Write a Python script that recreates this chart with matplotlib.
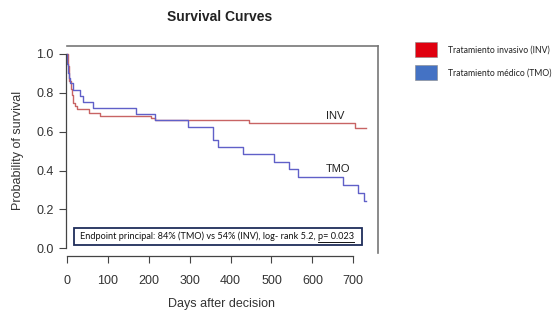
import matplotlib.pyplot as plt
from matplotlib.patches import Rectangle
from matplotlib.lines import Line2D

# Kaplan-Meier steps (day, survival after step)
inv_days = [0, 2, 4, 6, 9, 12, 16, 20, 25, 55, 80, 205, 215, 445, 705, 730]
inv_surv = [1.0, 0.94, 0.90, 0.86, 0.82, 0.79, 0.75, 0.73, 0.715, 0.697, 0.68,
            0.668, 0.66, 0.643, 0.619, 0.619]

tmo_days = [0, 1, 3, 5, 8, 15, 32, 40, 64, 170, 215, 297, 358, 370, 430, 507,
            542, 564, 676, 711, 725, 730]
tmo_surv = [1.0, 0.95, 0.90, 0.875, 0.85, 0.815, 0.785, 0.754, 0.72, 0.69, 0.66,
            0.622, 0.557, 0.519, 0.483, 0.445, 0.41, 0.368, 0.325, 0.285, 0.244, 0.244]

x_ticks = [0, 100, 200, 300, 400, 500, 600, 700]
y_ticks = [0.0, 0.2, 0.4, 0.6, 0.8, 1.0]

legend_labels = ['Tratamiento invasivo (INV)', 'Tratamiento médico (TMO)']
legend_colors = ['#e0000f', '#4472c4']
note_main = 'Endpoint principal: 84% (TMO) vs 54% (INV), log- rank 5.2, '
note_p = 'p= 0.023'

W, H = 560, 315
def fx(px):
    return px / W
def fy(py):
    return 1 - py / H

plt.rcParams['font.family'] = ['Liberation Sans', 'DejaVu Sans']
fig = plt.figure(figsize=(5.6, 3.15), dpi=100)
ax = fig.add_axes([fx(55), fy(256), fx(377.5) - fx(55), fy(46.2) - fy(256)])

ax.step(inv_days, inv_surv, where='post', color='#c86464', lw=1)
ax.step(tmo_days, tmo_surv, where='post', color='#6060c8', lw=1)

ax.set_xlim(-29.2, 759.2)
ax.set_ylim(-0.04, 1.04)
ax.set_xticks(x_ticks)
ax.set_yticks(y_ticks)
ax.set_yticklabels([f'{v:.1f}' for v in y_ticks])
ax.tick_params(labelsize=9, length=5, color='#444444', labelcolor='#333333')
ax.tick_params(axis='x', pad=9)

for s in ['top', 'right']:
    ax.spines[s].set_color('#777777')
    ax.spines[s].set_linewidth(1.2)
ax.spines['top'].set_bounds(0, 759.2)
ax.spines['right'].set_bounds(-0.025, 1.04)
ax.spines['left'].set_position(('data', -3))
ax.spines['left'].set_bounds(0, 1)
ax.spines['bottom'].set_bounds(0, 700)
for s in ['left', 'bottom']:
    ax.spines[s].set_color('#444444')
    ax.spines[s].set_linewidth(0.9)

ax.text(633, 0.655, 'INV', fontsize=8, color='#222222', ha='left', va='bottom')
ax.text(632, 0.38, 'TMO', fontsize=8, color='#222222', ha='left', va='bottom')

fig.text(fx(220), fy(17), 'Survival Curves', fontsize=10, fontweight='bold',
         ha='center', va='center', color='#222222')
fig.text(fx(222), fy(304), 'Days after decision', fontsize=9, ha='center',
         va='center', color='#333333')
fig.text(fx(18), fy(150), 'Probability of survival', fontsize=9, rotation=90,
         ha='center', va='center', color='#333333')

# note box
fig.patches.append(Rectangle((fx(74), fy(245)), fx(362) - fx(74), fy(228) - fy(245),
                             transform=fig.transFigure, fill=True, facecolor='white',
                             edgecolor='#1f2d5a', lw=1.3))
note_font = dict(fontsize=6.6, family=['Lato', 'DejaVu Sans'], color='#111111')
t1 = fig.text(fx(80), fy(236.5), note_main, ha='left', va='center', **note_font)
fig.canvas.draw()
bb = t1.get_window_extent()
t2 = fig.text(bb.x1 / W, fy(236.5), note_p, ha='left', va='center', **note_font)
fig.canvas.draw()
bb2 = t2.get_window_extent()
fig.lines.append(Line2D([bb2.x0 / W, bb2.x1 / W], [fy(241.5), fy(241.5)],
                        transform=fig.transFigure, color='#111111', lw=0.7))

# legend
for i, (lab, col) in enumerate(zip(legend_labels, legend_colors)):
    top = 42.5 + i * 23
    fig.patches.append(Rectangle((fx(415), fy(top + 14.5)), fx(437) - fx(415), 14.5 / H,
                                 transform=fig.transFigure, facecolor=col,
                                 edgecolor='#888888', lw=0.4))
    fig.text(fx(448), fy(top + 7.5), lab, fontsize=6.2, family=['Lato', 'DejaVu Sans'],
             ha='left', va='center', color='#222222')

fig.savefig('out.png', dpi=100)
plt.close(fig)
